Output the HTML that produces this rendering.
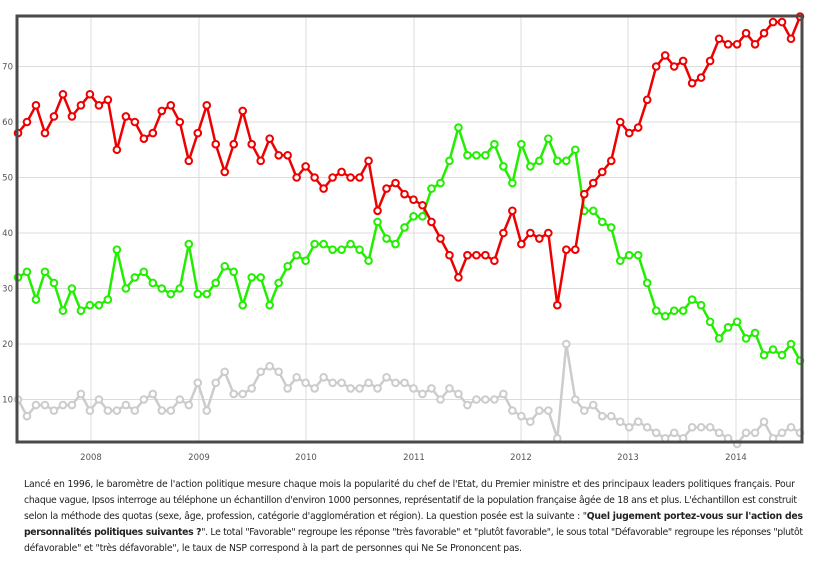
<!DOCTYPE html>
<html><head><meta charset="utf-8"><style>
body{margin:0;background:#fff;width:820px;height:583px;overflow:hidden}
svg{display:block}
</style></head><body>
<svg id="s" width="820" height="583" xmlns="http://www.w3.org/2000/svg" font-family="DejaVu Sans, Liberation Sans, sans-serif">
<g id="grid" stroke="#dcdcdc" stroke-width="1"></g>
<g id="series"></g>
<rect x="17" y="16" width="785" height="426" fill="none" stroke="#4a4a4a" stroke-width="3"/>
<g id="lab" font-size="8.5" fill="#555"></g>
<g font-size="9.3" fill="#222">
<text x="24" y="487" textLength="771" lengthAdjust="spacing">Lancé en 1996, le baromètre de l'action politique mesure chaque mois la popularité du chef de l'Etat, du Premier ministre et des principaux leaders politiques français. Pour</text>
<text x="24" y="503" textLength="773" lengthAdjust="spacing">chaque vague, Ipsos interroge au téléphone un échantillon d'environ 1000 personnes, représentatif de la population française âgée de 18 ans et plus. L'échantillon est construit</text>
<text x="24" y="519" textLength="779" lengthAdjust="spacing">selon la méthode des quotas (sexe, âge, profession, catégorie d'agglomération et région). La question posée est la suivante : "<tspan font-weight="bold">Quel jugement portez-vous sur l'action des</tspan></text>
<text x="24" y="535" textLength="779" lengthAdjust="spacing"><tspan font-weight="bold">personnalités politiques suivantes ?</tspan>". Le total "Favorable" regroupe les réponse "très favorable" et "plutôt favorable", le sous total "Défavorable" regroupe les réponses "plutôt</text>
<text x="24" y="551" textLength="498" lengthAdjust="spacing">défavorable" et "très défavorable", le taux de NSP correspond à la part de personnes qui Ne Se Prononcent pas.</text>
</g>
</svg>
<script>
var NS="http://www.w3.org/2000/svg";
function el(p,t,a,txt){var e=document.createElementNS(NS,t);for(var k in a)e.setAttribute(k,a[k]);if(txt)e.textContent=txt;p.appendChild(e);return e;}
function Y(v){return 66.5+(70-v)*5.55;}
function X(i){return 18+i*782/87;}
var g=document.getElementById('grid'),lab=document.getElementById('lab');
[10,20,30,40,50,60,70].forEach(function(v){el(g,'line',{x1:17,x2:802,y1:Y(v),y2:Y(v)});el(lab,'text',{x:13,y:Y(v)+3,'text-anchor':'end'},String(v));});
var yrs=[[2008,91],[2009,199],[2010,306],[2011,414],[2012,521],[2013,628],[2014,736]];
yrs.forEach(function(a){el(g,'line',{x1:a[1],x2:a[1],y1:16,y2:442});el(lab,'text',{x:a[1],y:460,'text-anchor':'middle'},String(a[0]));});
var red=[58,60,63,58,61,65,61,63,65,63,64,55,61,60,57,58,62,63,60,53,58,63,56,51,56,62,56,53,57,54,54,50,52,50,48,50,51,50,50,53,44,48,49,47,46,45,42,39,36,32,36,36,36,35,40,44,38,40,39,40,27,37,37,47,49,51,53,60,58,59,64,70,72,70,71,67,68,71,75,74,74,76,74,76,78,78,75,79];
var green=[32,33,28,33,31,26,30,26,27,27,28,37,30,32,33,31,30,29,30,38,29,29,31,34,33,27,32,32,27,31,34,36,35,38,38,37,37,38,37,35,42,39,38,41,43,43,48,49,53,59,54,54,54,56,52,49,56,52,53,57,53,53,55,44,44,42,41,35,36,36,31,26,25,26,26,28,27,24,21,23,24,21,22,18,19,18,20,17];
var gray=[10,7,9,9,8,9,9,11,8,10,8,8,9,8,10,11,8,8,10,9,13,8,13,15,11,11,12,15,16,15,12,14,13,12,14,13,13,12,12,13,12,14,13,13,12,11,12,10,12,11,9,10,10,10,11,8,7,6,8,8,3,20,10,8,9,7,7,6,5,6,5,4,3,4,3,5,5,5,4,3,2,4,4,6,3,4,5,4];
var s=document.getElementById('series');
function draw(d,c){var pts=d.map(function(v,i){return X(i).toFixed(1)+','+Y(v).toFixed(1);}).join(' ');
el(s,'polyline',{points:pts,fill:'none',stroke:c,'stroke-width':2.5,'stroke-linejoin':'round'});
d.forEach(function(v,i){el(s,'circle',{cx:X(i),cy:Y(v),r:3.3,fill:'#fff',stroke:c,'stroke-width':2});});}
draw(gray,'#cccccc');draw(green,'#22ee00');draw(red,'#ee0000');
</script>
</body></html>
